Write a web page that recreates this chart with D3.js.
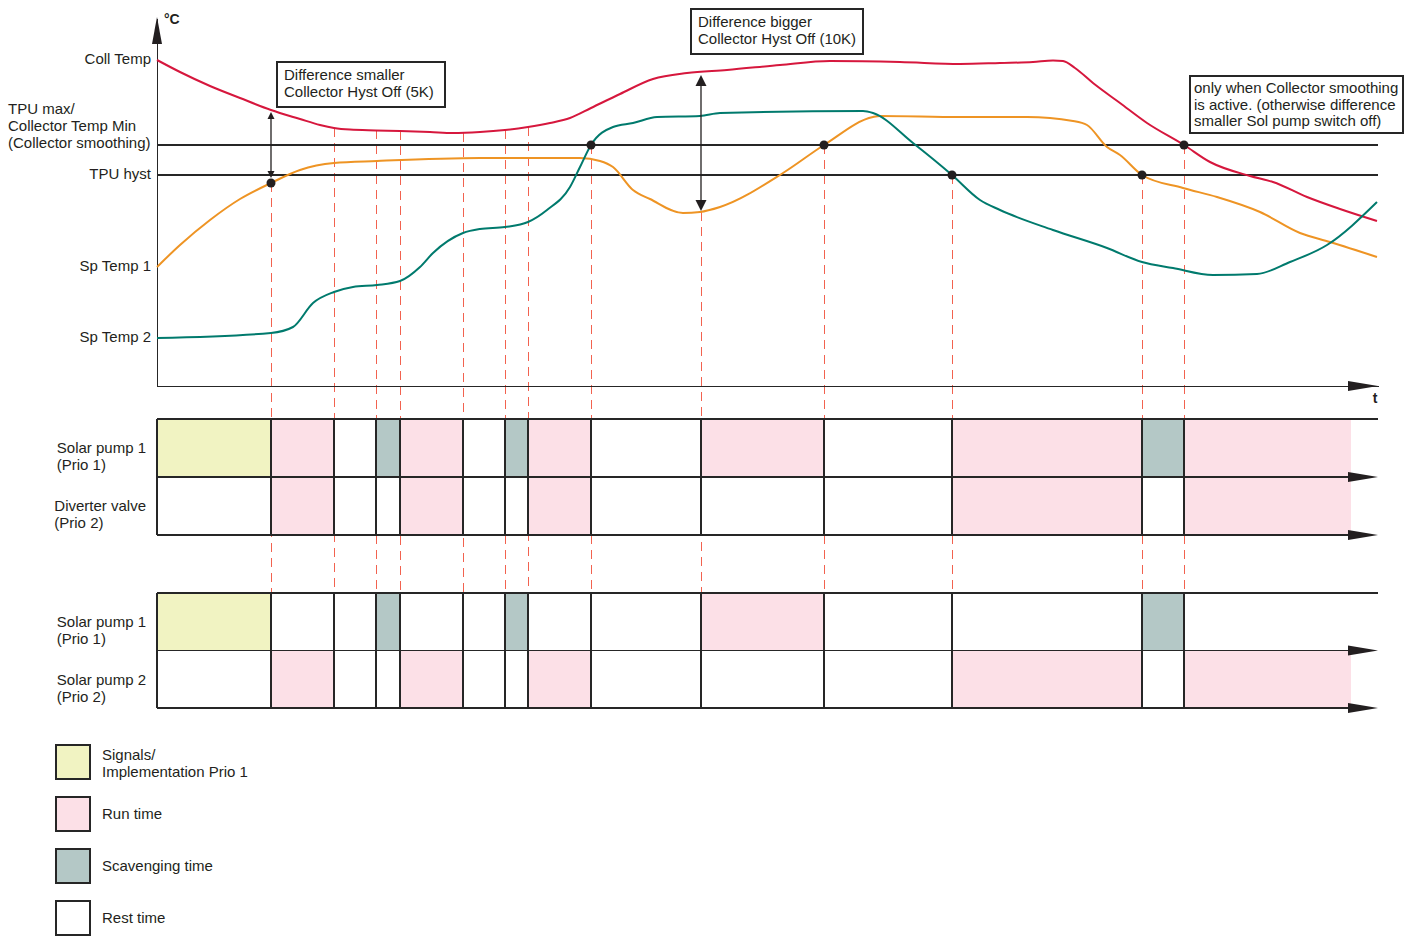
<!DOCTYPE html>
<html>
<head>
<meta charset="utf-8">
<script src="https://cdn.jsdelivr.net/npm/d3@7"></script>
<style>
  html, body { margin: 0; padding: 0; background: #fff; }
  svg { display: block; font-family: "Liberation Sans", Arial, sans-serif; }
  text { fill: #231f20; }
  line.crisp, .domain { shape-rendering: crispEdges; }
</style>
</head>
<body>
<svg id="chart" width="1419" height="937"></svg>
<script>
// ---------------- DATA ----------------
// Collector temperature (time unit, °C-like unit)
const collTime = [0, 2.3, 5.3, 8.3, 11.4, 14.3, 16.3, 17.7, 19.3, 21.9, 24.3, 27.3, 29.6, 32.3, 34.8, 37.1, 39.3, 41.3, 43.4, 46.3, 49.6, 53, 57, 62.3, 67.3, 74.3, 80.3, 84.3, 87.6, 89.6, 90.6, 91.8, 93.6, 96.3, 99, 102.7, 105.3, 109.3, 111.6, 115, 118.3, 122];
const collTemp = [81.5, 78.5, 75, 72, 69, 66.75, 65.25, 64.5, 64.1, 63.9, 63.75, 63.5, 63.25, 63.5, 64, 64.75, 65.75, 67, 69.5, 73, 76.75, 78.25, 79, 80.25, 81.25, 81, 80.5, 80.75, 81, 81.4, 81.25, 79.5, 75.75, 70.75, 65.75, 60.25, 56, 52.5, 51, 47.25, 44.25, 41.25];

// Storage temperature 1
const sp1Time = [0, 2.3, 5.3, 8.3, 11.4, 14.3, 17.7, 22, 32.3, 42.3, 44.3, 45.6, 47.6, 49.3, 52.6, 54.3, 56.3, 62.6, 66.7, 71.6, 72.3, 80.3, 87, 91.6, 93, 95, 96.3, 98.5, 102.6, 106, 110.3, 114.3, 117.3, 122];
const sp1Temp = [29.75, 35.25, 41.5, 46.75, 50.75, 54, 55.75, 56.25, 57, 57, 56.25, 54.75, 49, 46.75, 43.25, 43.5, 44.75, 53.25, 60.25, 67.25, 67.5, 67.25, 67.25, 66.25, 65.25, 59.75, 57.75, 52.75, 49.5, 47.25, 43.5, 38.25, 36, 32.25];

// Storage temperature 2
const sp2Time = [0, 11.4, 13.6, 15.6, 17.7, 19.6, 22, 24.3, 26.3, 27.6, 30.6, 32.3, 34.8, 37.1, 39, 41.3, 42.3, 43.4, 45.6, 47.6, 50, 54.3, 56.3, 70.6, 71.6, 75.6, 79.5, 82.3, 84.3, 89.6, 95, 98.5, 101.6, 105.6, 110, 113.3, 117, 122];
const sp2Temp = [12, 13.25, 14.75, 20.75, 23.5, 24.75, 25.25, 26.25, 29.75, 33.25, 38.25, 39.25, 39.75, 41, 44, 49.75, 54.75, 60.25, 64.75, 65.75, 67.25, 67.5, 68.25, 68.75, 68.25, 60.75, 52.75, 46.5, 44, 39, 34.5, 31, 29.5, 27.75, 28, 31, 35.25, 46];

// Thresholds
const tpuMax = 60.25;
const tpuHyst = 52.75;

// Switching events (time) and temperature where their guide line begins
const eventTimes = [11.4, 17.7, 21.9, 24.3, 30.6, 34.8, 37.1, 43.4, 54.4, 66.7, 79.5, 98.5, 102.7];
const eventStartTemps = [50.75, 64.5, 64, 63.75, 63.25, 64, 64.75, 60.25, 43.5, 60.25, 52.75, 52.75, 60.25];
const dotEventIdx = [0, 7, 9, 10, 11, 12];
const timeEnd = 122.1;
const fillEnd = 119.4;

// Double arrows (time, upper temp, lower temp)
const arrowTimes = [11.4, 54.4];
const arrowTop = [68.5, 77.75];
const arrowBottom = [52, 43.75];

// Timing states per segment: S=signal, R=run, V=scavenging, O=rest
const d1Pump1 = ['S','R','O','V','R','O','V','R','O','R','O','R','V','R'];
const d1Valve = ['O','R','O','O','R','O','O','R','O','O','O','R','O','R'];
const d2Pump1 = ['S','O','O','V','O','O','V','O','O','R','O','O','V','O'];
const d2Pump2 = ['O','R','O','O','R','O','O','R','O','O','O','R','O','R'];

const axisLabels = ['Coll Temp', 'TPU hyst', 'Sp Temp 1', 'Sp Temp 2'];
const tpuMaxLabel = ['TPU max/', 'Collector Temp Min', '(Collector smoothing)'];
const rowLabels = [['Solar pump 1', '(Prio 1)'], ['Diverter valve', '(Prio 2)'], ['Solar pump 1', '(Prio 1)'], ['Solar pump 2', '(Prio 2)']];
const legendKeys = ['S', 'R', 'V', 'O'];
const legendLabels = [['Signals/', 'Implementation Prio 1'], ['Run time'], ['Scavenging time'], ['Rest time']];
const noteTexts = [
  ['Difference smaller', 'Collector Hyst Off (5K)'],
  ['Difference bigger', 'Collector Hyst Off (10K)'],
  ['only when Collector smoothing', 'is active. (otherwise difference', 'smaller Sol pump switch off)']
];

// ---------------- STYLE ----------------
const stateColor = { S: '#f1f3c2', R: '#fce0e7', V: '#b4c8c6', O: '#ffffff' };
const ink = '#231f20';
const lineInk = '#262626';
const colColl = '#d6173d', colSp1 = '#ee9424', colSp2 = '#007a6d', colDash = '#f2624f';

// ---------------- SCALES ----------------
const svg = d3.select('#chart');
const x = d3.scaleLinear().domain([0, timeEnd]).range([157, 1378]);
const y = d3.scaleLinear().domain([0, 92]).range([386, 18]);
const fs = 15;

// ---------------- DASHED GUIDES (behind everything) ----------------
const d1Top = 419, d1RowH = 58, d2Top = 593, d2RowH = 57.5;
svg.append('g').selectAll('line').data(eventTimes).join('line')
  .attr('class', 'crisp')
  .attr('x1', d => x(d)).attr('x2', d => x(d))
  .attr('y1', (d, i) => y(eventStartTemps[i])).attr('y2', d2Top)
  .attr('stroke', colDash).attr('stroke-width', 1).attr('stroke-dasharray', '9,6');

// ---------------- AXES ----------------
const yAxis = d3.axisLeft(y).tickValues([collTemp[0], tpuHyst, sp1Temp[0], sp2Temp[0]])
  .tickFormat((d, i) => axisLabels[i]).tickSize(0).tickPadding(6).tickSizeOuter(0);
const gy = svg.append('g').attr('transform', `translate(${x(0)},0)`).call(yAxis);
gy.select('.domain').attr('stroke', lineInk).attr('stroke-width', 1.3);
gy.selectAll('text').attr('font-size', fs).attr('font-family', '"Liberation Sans", Arial, sans-serif').attr('fill', ink).attr('dy', '0.25em');

const xAxis = d3.axisBottom(x).tickValues([]).tickSizeOuter(0);
const gx = svg.append('g').attr('transform', `translate(0,${y(0)})`).call(xAxis);
gx.select('.domain').attr('stroke', lineInk).attr('stroke-width', 1.3);

// arrowheads
function arrowUp(cx, tipY, hw, len) { return `M${cx},${tipY}L${cx + hw},${tipY + len}L${cx - hw},${tipY + len}Z`; }
function arrowDown(cx, tipY, hw, len) { return `M${cx},${tipY}L${cx + hw},${tipY - len}L${cx - hw},${tipY - len}Z`; }
function arrowRight(tipX, cy, hh, len) { return `M${tipX},${cy}L${tipX - len},${cy - hh}L${tipX - len},${cy + hh}Z`; }
svg.append('path').attr('d', arrowUp(x(0), 17, 5, 27)).attr('fill', ink);
svg.append('path').attr('d', arrowRight(x(timeEnd), y(0), 5, 30)).attr('fill', ink);
svg.append('text').attr('x', 164).attr('y', 24).attr('font-size', 14).attr('font-weight', 'bold').text('°C');
svg.append('text').attr('x', 1375).attr('y', 403).attr('font-size', 14).attr('font-weight', 'bold').attr('text-anchor', 'middle').text('t');

// threshold lines
svg.append('g').selectAll('line').data([tpuMax, tpuHyst]).join('line')
  .attr('class', 'crisp')
  .attr('x1', x(0)).attr('x2', x(timeEnd)).attr('y1', d => y(d)).attr('y2', d => y(d))
  .attr('stroke', lineInk).attr('stroke-width', 1.2);

// TPU max label (multi-line, left aligned)
const tl = svg.append('text').attr('font-size', fs);
tpuMaxLabel.forEach((s, i) => tl.append('tspan').attr('x', 8).attr('y', y(tpuMax) - 31 + i * 17).text(s));

// ---------------- CURVES ----------------
const line = d3.line().x(d => x(d[0])).y(d => y(d[1])).curve(d3.curveMonotoneX);
const series = [
  { t: collTime, v: collTemp, c: colColl },
  { t: sp1Time, v: sp1Temp, c: colSp1 },
  { t: sp2Time, v: sp2Temp, c: colSp2 }
];
svg.append('g').selectAll('path').data(series).join('path')
  .attr('d', s => line(s.t.map((tt, i) => [tt, s.v[i]])))
  .attr('fill', 'none').attr('stroke', s => s.c).attr('stroke-width', 2);

// dots
svg.append('g').selectAll('circle').data(dotEventIdx).join('circle')
  .attr('cx', i => x(eventTimes[i])).attr('cy', i => y(eventStartTemps[i])).attr('r', 4.5).attr('fill', ink);

// double arrows
const arrowSizes = [[3.5, 7], [5.5, 11]];
arrowTimes.forEach((t, i) => {
  const [hw, len] = arrowSizes[i];
  svg.append('line').attr('x1', x(t)).attr('x2', x(t)).attr('y1', y(arrowTop[i]) + len - 1).attr('y2', y(arrowBottom[i]) - len + 1)
    .attr('stroke', ink).attr('stroke-width', 1.3);
  svg.append('path').attr('d', arrowUp(x(t), y(arrowTop[i]), hw, len)).attr('fill', ink);
  svg.append('path').attr('d', arrowDown(x(t), y(arrowBottom[i]), hw, len)).attr('fill', ink);
});

// note boxes
const noteBoxes = [
  { x: 277, y: 62, w: 168, h: 45, tx: 284, ty: 80 },
  { x: 691, y: 9, w: 172, h: 45, tx: 698, ty: 27 },
  { x: 1190, y: 76, w: 213, h: 57, tx: 1194, ty: 93 }
];
noteBoxes.forEach((b, i) => {
  svg.append('rect').attr('x', b.x).attr('y', b.y).attr('width', b.w).attr('height', b.h)
    .attr('fill', '#fff').attr('stroke', lineInk).attr('stroke-width', 1.3).attr('shape-rendering', 'crispEdges');
  const t = svg.append('text').attr('font-size', fs);
  noteTexts[i].forEach((s, j) => t.append('tspan').attr('x', b.tx).attr('y', b.ty + j * 16.5).text(s));
});

// ---------------- TIMING DIAGRAMS ----------------
const bounds = [0, ...eventTimes, fillEnd];
const diagrams = [
  { top: d1Top, rh: d1RowH, rows: [d1Pump1, d1Valve], labels: [rowLabels[0], rowLabels[1]] },
  { top: d2Top, rh: d2RowH, rows: [d2Pump1, d2Pump2], labels: [rowLabels[2], rowLabels[3]] }
];
diagrams.forEach(dg => {
  const g = svg.append('g');
  dg.rows.forEach((states, r) => {
    const ry = dg.top + r * dg.rh;
    g.append('g').selectAll('rect').data(states).join('rect')
      .attr('x', (s, i) => x(bounds[i])).attr('width', (s, i) => x(bounds[i + 1]) - x(bounds[i]))
      .attr('y', ry).attr('height', dg.rh).attr('fill', s => stateColor[s]);
    // row label
    const lt = g.append('text').attr('font-size', fs);
    const l1 = lt.append('tspan').attr('y', ry + 34).text(dg.labels[r][0]);
    const w = l1.node().getComputedTextLength();
    const lx = 146 - w;
    l1.attr('x', lx);
    lt.append('tspan').attr('x', lx).attr('y', ry + 51).text(dg.labels[r][1]);
  });
  // vertical lines
  g.append('g').selectAll('line').data([0, ...eventTimes]).join('line')
    .attr('class', 'crisp')
    .attr('x1', d => x(d)).attr('x2', d => x(d)).attr('y1', dg.top).attr('y2', dg.top + 2 * dg.rh)
    .attr('stroke', lineInk).attr('stroke-width', 1.3);
  // horizontal lines
  [0, 1, 2].forEach(k => {
    const hy = dg.top + k * dg.rh;
    g.append('line').attr('class', 'crisp').attr('x1', x(0)).attr('x2', x(timeEnd) - (k ? 10 : 0)).attr('y1', hy).attr('y2', hy)
      .attr('stroke', lineInk).attr('stroke-width', 1.3);
    if (k) g.append('path').attr('d', arrowRight(x(timeEnd), hy, 5, 30)).attr('fill', ink);
  });
});

// ---------------- LEGEND ----------------
const lg = svg.append('g');
legendKeys.forEach((k, i) => {
  const top = 745 + i * 52;
  lg.append('rect').attr('x', 56).attr('y', top).attr('width', 34).attr('height', 34)
    .attr('fill', stateColor[k]).attr('stroke', lineInk).attr('stroke-width', 1.4).attr('shape-rendering', 'crispEdges');
  const t = lg.append('text').attr('font-size', fs);
  const lines = legendLabels[i];
  const base = lines.length > 1 ? top + 15 : top + 22;
  lines.forEach((s, j) => t.append('tspan').attr('x', 102).attr('y', base + j * 17).text(s));
});
</script>
</body>
</html>
